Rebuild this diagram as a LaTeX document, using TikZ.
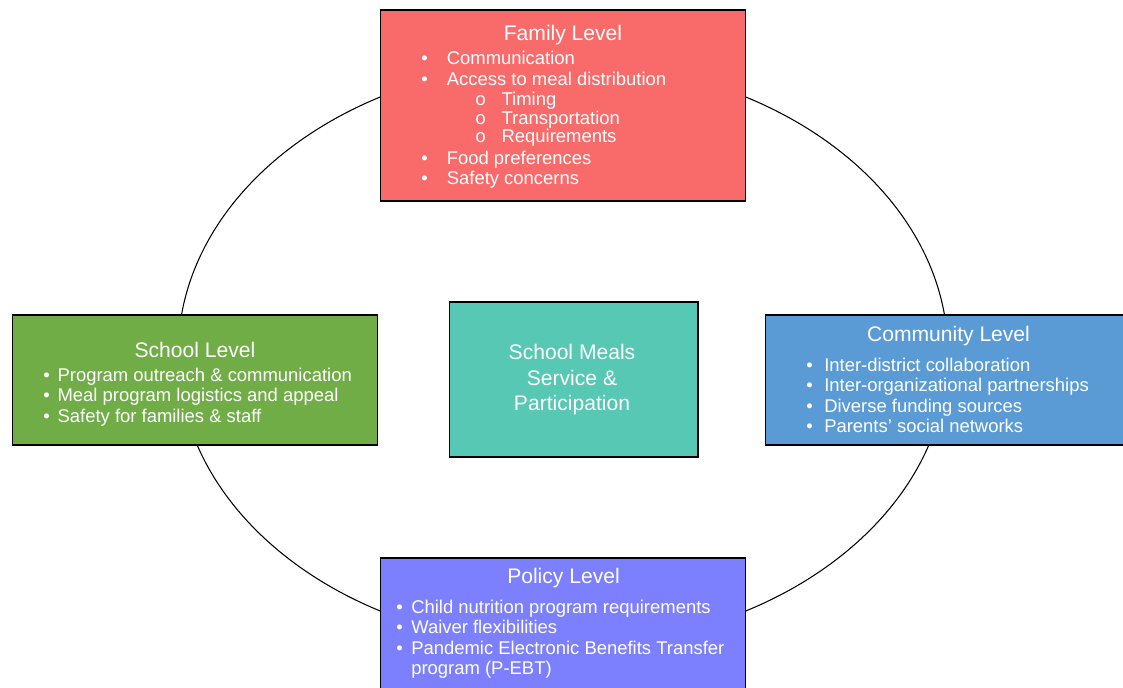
\documentclass[tikz,border=0pt]{standalone}
\usepackage{fontspec}
\setmainfont{Liberation Sans}
\newfontfamily\circfont{Liberation Mono}

\definecolor{familyred}{RGB}{249,106,106}
\definecolor{schoolgreen}{RGB}{112,173,71}
\definecolor{mealsteal}{RGB}{86,200,180}
\definecolor{communityblue}{RGB}{91,155,213}
\definecolor{policyblue}{RGB}{124,128,255}

\newcommand{\itm}[1]{\makebox[#1][l]{\textbullet}}
\newcommand{\subitm}{\hspace*{30.6pt}\makebox[15.1pt][l]{\circfont o}}

\begin{document}
\begin{tikzpicture}[x=0.02cm,y=-0.02cm,
    levelbox/.style={rectangle,draw=black,line width=0.6pt,inner sep=0pt},
    boxtitle/.style={text=white,font=\fontsize{12}{14}\selectfont,anchor=base,inner sep=0pt},
    boxlist/.style={text=white,font=\fontsize{10.5}{11.7}\selectfont,align=left,anchor=north west,inner sep=0pt}]

      \useasboundingbox (0,0) rectangle (1123,688);
      \clip (0,0) rectangle (1123,688);

      \draw[line width=0.6pt] (563,354) ellipse [x radius=7.7cm, y radius=5.84cm];

      \node[levelbox,fill=familyred,minimum width=7.32cm,minimum height=3.82cm] (family) at (563,105.5) {};
      \node[levelbox,fill=schoolgreen,minimum width=7.32cm,minimum height=2.6cm] (school) at (195,380) {};
      \node[levelbox,fill=mealsteal,minimum width=4.98cm,minimum height=3.1cm] (meals) at (573.5,379.5) {};
      \node[levelbox,fill=communityblue,minimum width=7.32cm,minimum height=2.6cm] (community) at (948,380) {};
      \node[levelbox,fill=policyblue,minimum width=7.32cm,minimum height=2.84cm] (policy) at (563,629) {};

      \node[boxtitle] (familytitle) at (563,41) {Family Level};
      \node[boxtitle] (schooltitle) at (195,358) {School Level};
      \node[boxtitle] (communitytitle) at (948.5,342) {Community Level};
      \node[boxtitle] (policytitle) at (563.5,584) {Policy Level};

      \node[boxlist] (familylist) at (421,51) {\itm{14.5pt}Communication\\
        \itm{14.5pt}Access to meal distribution\\[-0.35pt]
        \subitm Timing\\[-0.7pt]
        \subitm Transportation\\[-1.25pt]
        \subitm Requirements\\[0.55pt]
        \itm{14.5pt}Food preferences\\
        \itm{14.5pt}Safety concerns};
      \node[boxlist] (schoollist) at (43,367.5) {\itm{8.1pt}Program outreach \& communication\\
        \itm{8.1pt}Meal program logistics and appeal\\
        \itm{8.1pt}Safety for families \& staff};
      \node[boxlist] (communitylist) at (806,357.5) {\itm{10.2pt}Inter-district collaboration\\
        \itm{10.2pt}Inter-organizational partnerships\\
        \itm{10.2pt}Diverse funding sources\\
        \itm{10.2pt}Parents’ social networks};
      \node[boxlist] (policylist) at (396,599.5) {\itm{8.5pt}Child nutrition program requirements\\
        \itm{8.5pt}Waiver flexibilities\\
        \itm{8.5pt}Pandemic Electronic Benefits Transfer\\
        \hspace*{8.5pt}program (P-EBT)};

      \node[text=white,align=center,font=\fontsize{12}{14.5}\selectfont,anchor=north,inner sep=0pt] (mealstext) at (572,344) {School Meals\\Service \&\\Participation};

\end{tikzpicture}
\end{document}
